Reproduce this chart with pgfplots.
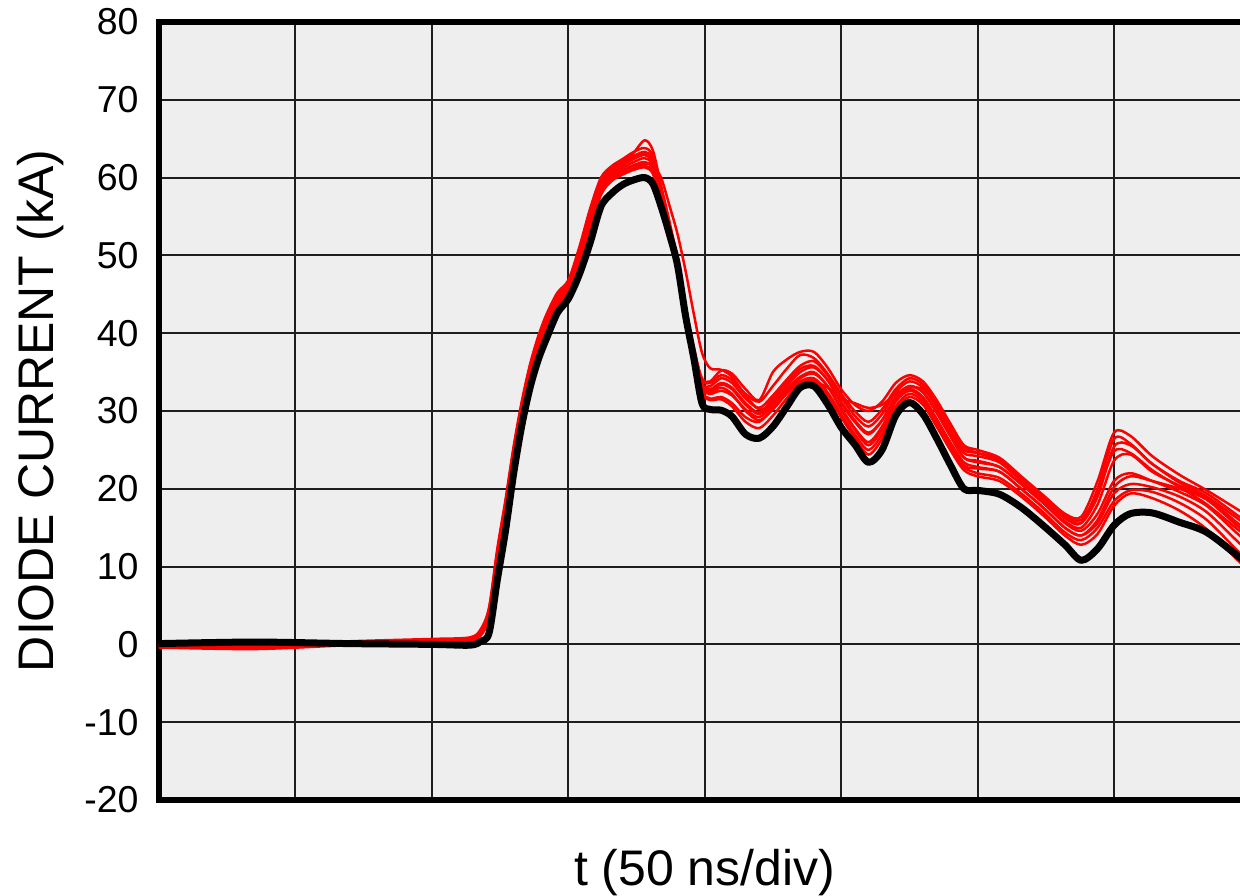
\documentclass[border=0pt]{standalone}
\usepackage{fontspec}
\setmainfont{Liberation Sans}
\usepackage{pgfplots}
\usepackage{pgfplotstable}
\pgfplotsset{compat=1.18}
\definecolor{bg}{RGB}{238,238,238}
\definecolor{gridc}{RGB}{30,30,30}

\pgfplotstableread{
t   blk  r1   r2   r3   r4   r5   r6   r7   r8   r9   r10
0   0.1  -0.2 -0.3 0.0  -0.1 -0.4 0.1  -0.2 0.0  -0.3 -0.1
35  0.3  -0.4 -0.5 -0.2 -0.3 -0.6 -0.1 -0.4 -0.2 -0.5 -0.3
70  0.1  0.2  0.0  0.3  0.1  -0.1 0.4  0.2  0.3  0.0  0.2
100 0.0  0.5  0.3  0.6  0.4  0.2  0.7  0.5  0.6  0.3  0.4
114 -0.1 0.7  0.5  0.8  0.6  0.4  0.9  0.7  0.8  0.5  0.6
118 0.4  1.6  1.3  1.8  1.5  1.2  2.0  1.6  1.7  1.3  1.5
121 1.5  4.2  3.6  4.6  4.0  3.4  4.8  4.1  4.4  3.7  3.9
124 8.3  11.5 10.6 12.0 11.0 10.2 12.3 11.2 11.7 10.5 10.9
127 14.6 17.8 16.9 18.3 17.4 16.5 18.6 17.5 18.0 16.8 17.2
130 22.0 24.8 23.8 25.2 24.3 23.4 25.5 24.5 25.0 23.7 24.1
133 28.2 30.6 29.7 31.0 30.2 29.4 31.3 30.4 30.8 29.6 30.0
136 33.0 35.3 34.5 35.8 35.0 34.3 36.0 35.2 35.6 34.4 34.8
139 36.6 39.0 38.2 39.4 38.6 38.0 39.6 38.8 39.2 38.1 38.5
142 39.3 41.8 41.0 42.2 41.4 40.8 42.4 41.6 42.0 40.9 41.3
146 42.6 44.6 43.8 45.0 44.2 43.5 45.2 44.4 44.8 43.7 44.0
150 44.4 46.2 45.4 46.6 45.8 45.0 46.8 46.0 46.4 45.2 45.6
154 47.5 50.0 49.0 50.6 49.6 48.6 51.0 49.8 50.3 48.8 49.4
158 51.6 55.0 53.8 55.6 54.4 53.3 56.0 54.8 55.3 53.6 54.2
162 56.3 59.4 58.3 59.8 58.8 57.8 60.0 59.2 59.6 58.0 58.6
166 58.0 61.0 60.0 61.4 60.5 59.6 61.5 60.8 61.2 59.8 60.3
170 59.1 61.8 60.8 62.2 61.3 60.4 62.4 61.6 62.0 60.6 61.0
174 59.7 63.2 61.3 62.8 62.0 61.0 63.3 62.4 62.6 61.2 61.6
178 60.0 64.8 61.8 63.3 62.5 61.3 63.8 62.9 63.0 61.5 62.0
181 59.2 63.5 61.5 62.4 61.6 60.5 62.8 62.0 61.8 60.8 61.2
184 56.3 59.0 60.0 58.0 57.5 56.8 58.4 57.8 57.2 57.0 57.3
187 52.8 54.5 56.5 53.8 53.5 53.0 54.0 53.6 53.2 53.4 53.0
190 48.8 49.5 52.8 49.0 48.8 48.5 49.2 48.9 48.6 48.7 48.4
193 42.2 43.5 48.0 43.0 42.8 42.4 43.2 42.9 42.6 42.7 42.3
196 36.8 38.0 42.5 37.8 37.5 37.0 38.2 37.6 37.3 37.4 37.1
199 31.0 34.2 37.5 33.5 33.2 32.5 34.0 33.3 32.9 33.0 32.3
202 30.2 33.8 35.5 33.2 32.6 31.6 33.6 32.8 32.2 32.4 31.4
206 30.1 35.2 35.3 34.2 33.4 31.8 34.6 33.6 32.6 33.0 31.5
210 29.3 34.8 34.4 33.6 32.8 31.0 34.0 33.0 32.0 32.2 30.6
215 27.0 32.8 32.0 31.6 30.8 29.2 32.2 31.0 30.2 30.0 28.6
220 26.5 31.4 30.2 30.4 29.6 28.6 31.2 29.8 29.2 28.8 27.8
225 28.0 35.0 31.0 32.0 31.2 30.4 33.2 31.6 30.8 30.2 29.4
230 30.5 36.6 32.6 34.0 33.2 32.4 35.4 33.6 32.8 32.2 31.6
235 33.0 37.6 33.6 35.8 35.0 34.2 37.2 35.4 34.4 33.8 33.6
240 33.2 37.6 33.8 36.4 35.6 34.8 36.8 35.8 35.0 34.2 34.0
245 30.9 35.6 33.0 34.6 34.0 33.2 34.8 34.0 33.2 32.4 32.0
250 27.9 32.8 31.6 31.8 31.2 30.2 32.2 31.0 30.4 29.6 29.2
255 25.7 30.8 31.0 29.4 28.8 27.6 30.0 28.6 27.8 27.0 26.6
260 23.4 30.0 30.4 28.0 27.2 25.6 28.6 27.0 26.0 25.0 24.4
265 25.0 31.2 30.8 29.6 28.8 27.6 30.2 28.8 28.0 27.0 26.4
270 29.4 33.6 32.2 32.4 31.8 31.2 32.8 31.8 31.4 30.6 30.2
275 31.1 34.6 33.0 33.8 33.2 32.6 34.2 33.2 32.8 32.2 31.8
280 29.6 33.8 32.8 33.0 32.4 31.6 33.4 32.4 31.8 31.2 30.8
285 26.5 31.4 31.0 30.4 29.8 28.8 30.8 29.8 29.0 28.4 28.0
290 23.1 28.4 28.2 27.2 26.8 25.8 27.6 26.8 26.0 25.4 25.0
295 20.0 25.6 25.4 24.6 24.0 23.0 25.0 24.0 23.4 22.8 22.4
300 19.8 25.0 24.6 24.2 23.6 22.6 24.6 23.4 22.8 22.0 21.6
308 19.3 24.0 23.6 23.4 22.8 22.2 23.8 22.8 22.2 21.4 21.0
316 17.6 21.6 21.4 21.0 20.6 20.0 21.4 20.6 20.0 19.4 19.0
324 15.3 19.2 19.0 18.6 18.2 17.6 19.0 18.2 17.6 17.0 16.6
332 12.8 16.8 16.4 16.2 15.8 15.0 16.6 15.6 15.0 14.4 14.0
338 10.8 16.4 15.6 15.6 15.0 14.0 16.0 14.6 14.0 13.4 12.8
344 12.3 21.0 19.0 20.0 18.0 16.0 19.6 16.8 15.6 15.0 14.2
350 15.3 27.2 25.4 26.4 23.6 20.2 24.8 21.0 19.4 18.4 17.8
356 16.8 26.8 25.6 25.8 24.4 21.6 24.6 22.0 20.6 19.8 19.4
364 16.9 24.2 23.2 23.2 22.2 21.0 22.4 21.0 20.2 19.6 18.8
374 15.7 21.8 21.0 20.8 20.4 20.0 20.2 19.6 19.0 18.2 17.2
384 14.4 19.8 19.4 19.0 18.8 18.6 18.0 17.8 17.0 16.0 14.8
396 11.2 17.2 16.4 16.0 15.4 15.0 14.6 14.0 13.0 11.8 10.6
400 10.0 16.4 15.6 15.2 14.6 14.2 13.8 13.0 12.0 10.8 9.6
}\datatable

\begin{document}
\begin{tikzpicture}
\begin{axis}[
  at={(0pt,0pt)}, anchor=south west,
  scale only axis, width=436.56pt, height=311.2pt,
  xmin=0, xmax=400, ymin=-20, ymax=80,
  xtick={0,50,...,400}, xticklabels={},
  ytick={-20,-10,...,80},
  yticklabels={-20,-10,0,10,20,30,40,50,60,70,80},
  major tick length=0pt,
  grid=major,
  major grid style={line width=0.8pt, color=gridc},
  axis line style={line width=2.4pt, black},
  axis background/.style={fill=bg},
  yticklabel style={font=\fontsize{15}{17}\selectfont, anchor=east, inner sep=0pt, xshift=-8pt},
  xlabel={t (50 ns/div)}, ylabel={DIODE CURRENT (kA)},
  xlabel style={font=\fontsize{20}{24}\selectfont, at={(axis description cs:0.5,-0.1105)}, anchor=base},
  ylabel style={font=\fontsize{20}{24}\selectfont, at={(axis description cs:-0.0971,0.5)}, anchor=base},
  clip=true,
]
\addplot[red, line width=1pt, smooth] table[x=t,y=r1]{\datatable};
\addplot[red, line width=1pt, smooth] table[x=t,y=r2]{\datatable};
\addplot[red, line width=1pt, smooth] table[x=t,y=r3]{\datatable};
\addplot[red, line width=1pt, smooth] table[x=t,y=r4]{\datatable};
\addplot[red, line width=1pt, smooth] table[x=t,y=r5]{\datatable};
\addplot[red, line width=1pt, smooth] table[x=t,y=r6]{\datatable};
\addplot[red, line width=1pt, smooth] table[x=t,y=r7]{\datatable};
\addplot[red, line width=1pt, smooth] table[x=t,y=r8]{\datatable};
\addplot[red, line width=1pt, smooth] table[x=t,y=r9]{\datatable};
\addplot[red, line width=1pt, smooth] table[x=t,y=r10]{\datatable};
\addplot[black, line width=2.8pt, smooth, line join=round] table[x=t,y=blk]{\datatable};
\end{axis}
\pgfresetboundingbox
\path[use as bounding box] (-63.6pt,-38.4pt) rectangle (432.4pt,320pt);
\end{tikzpicture}
\end{document}
